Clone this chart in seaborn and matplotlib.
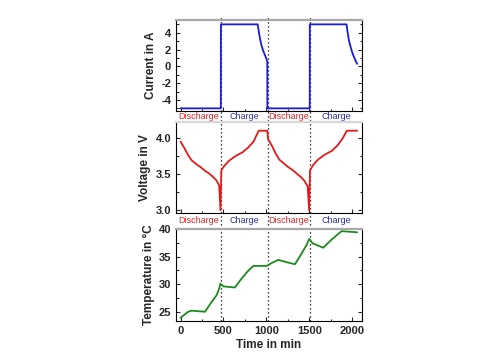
import seaborn as sns
import pandas as pd
from matplotlib import pyplot as plt
from matplotlib.ticker import MultipleLocator

# time axis boundaries between discharge / charge phases (min)
phase_edges = [470, 1020, 1505]
phase_names = ["Discharge", "Charge", "Discharge", "Charge"]

# current in A
cur_t = [0, 469, 470, 898, 906, 915, 925, 940, 960, 980, 1000, 1010, 1011,
         1020, 1504, 1505, 1932, 1940, 1950, 1962, 1980, 2000, 2020, 2040, 2056]
cur_v = [-5, -5, 5, 5, 4.5, 3.9, 3.3, 2.6, 1.9, 1.4, 0.9, 0.5, -5,
         -5, -5, 5, 5, 4.4, 3.7, 3.0, 2.3, 1.6, 1.1, 0.6, 0.3]

# voltage in V
volt_t = [0, 40, 90, 130, 180, 230, 280, 330, 380, 420, 450, 465, 475, 500,
          560, 640, 720, 790, 850, 890, 910, 1010, 1020, 1060, 1110, 1150, 1200,
          1250, 1300, 1350, 1400, 1440, 1480, 1497, 1507, 1540, 1600, 1680,
          1760, 1830, 1890, 1935, 2056]
volt_v = [3.95, 3.87, 3.76, 3.69, 3.64, 3.6, 3.55, 3.51, 3.46, 3.41, 3.34, 3.0,
          3.55, 3.6, 3.68, 3.75, 3.8, 3.87, 3.95, 4.05, 4.1, 4.1, 3.98, 3.9,
          3.78, 3.7, 3.65, 3.6, 3.56, 3.51, 3.46, 3.41, 3.33, 3.0, 3.55, 3.62,
          3.7, 3.77, 3.82, 3.9, 4.0, 4.1, 4.1]

# temperature in degC
temp_t = [0, 40, 90, 130, 200, 285, 350, 420, 450, 465, 498, 560, 634, 700,
          780, 847, 1002, 1070, 1138, 1230, 1331, 1400, 1467, 1498, 1537, 1661,
          1760, 1874, 2056]
temp_v = [23.9, 24.4, 25.0, 25.2, 25.1, 25.0, 26.5, 28.0, 29.2, 30.1, 29.6,
          29.5, 29.4, 30.8, 32.3, 33.3, 33.3, 33.9, 34.4, 34.0, 33.6, 35.3,
          37.1, 38.2, 37.4, 36.6, 38.1, 39.6, 39.4]

sns.set_style("ticks")
plt.rcParams['font.family'] = ['Liberation Sans', 'DejaVu Sans']
plt.rcParams['axes.unicode_minus'] = False
plt.rcParams['xtick.direction'] = 'in'
plt.rcParams['ytick.direction'] = 'in'

fig = plt.figure(figsize=(4.85, 3.6), dpi=100)
ax1 = fig.add_axes([0.363, 0.692, 0.383, 0.252])
ax2 = fig.add_axes([0.363, 0.408, 0.383, 0.253])
ax3 = fig.add_axes([0.363, 0.108, 0.383, 0.256])

df_cur = pd.DataFrame({"t": cur_t, "v": cur_v})
df_volt = pd.DataFrame({"t": volt_t, "v": volt_v})
df_temp = pd.DataFrame({"t": temp_t, "v": temp_v})

sns.lineplot(data=df_cur, x="t", y="v", ax=ax1, color="#1a1ae0", lw=1.3, sort=False)
sns.lineplot(data=df_volt, x="t", y="v", ax=ax2, color="#e41a1a", lw=1.3, sort=False)
sns.lineplot(data=df_temp, x="t", y="v", ax=ax3, color="#1c8a1c", lw=1.3, sort=False)

xlim = (-52, 2110)
ax1.set_ylim(-5.3, 5.5)
ax2.set_ylim(2.96, 4.22)
ax3.set_ylim(23.3, 40)
ax1.yaxis.set_major_locator(MultipleLocator(2))
ax1.yaxis.set_minor_locator(MultipleLocator(1))
ax2.yaxis.set_major_locator(MultipleLocator(0.5))
ax2.yaxis.set_minor_locator(MultipleLocator(0.25))
ax3.yaxis.set_major_locator(MultipleLocator(5))
ax3.yaxis.set_minor_locator(MultipleLocator(2.5))

labels = ["Current in A", "Voltage in V", "Temperature in °C"]
for ax, lab in zip([ax1, ax2, ax3], labels):
    ax.set_xlim(*xlim)
    ax.xaxis.set_major_locator(MultipleLocator(500))
    ax.xaxis.set_minor_locator(MultipleLocator(250))
    ax.tick_params(which='both', top=False, right=True, labelsize=8, width=0.8)
    ax.tick_params(which='major', length=3)
    ax.tick_params(which='minor', length=1.8)
    for s in ["left", "right", "bottom"]:
        ax.spines[s].set_color("black")
        ax.spines[s].set_linewidth(0.8)
    ax.spines["top"].set_color("#a8a8a8")
    ax.spines["top"].set_linewidth(1.6)
    for t in ax.get_yticklabels() + ax.get_xticklabels():
        t.set_fontweight("bold")
    ax.set_ylabel(lab, fontsize=8.5, fontweight="bold", labelpad=3)
    ax.set_xlabel("")

ax2.spines["top"].set_color("#d8d8d8")
ax1.set_xticklabels([])
ax2.set_xticklabels([])
ax3.set_xlabel("Time in min", fontsize=8.5, fontweight="bold", labelpad=2)

# dotted phase boundaries running through the gaps
for ax, top in [(ax1, 1.055), (ax2, 1.12), (ax3, 1.18)]:
    for x in phase_edges:
        ax.axvline(x, ymin=0, ymax=top, color="black", lw=0.9,
                   ls=(0, (1, 2.2)), clip_on=False, zorder=0)

# phase labels in the gaps under the top two panels
bounds = [xlim[0]] + phase_edges + [xlim[1]]
colors = ["#e02828", "#2c2ca8", "#e02828", "#2c2ca8"]
for ax, ypos in [(ax1, -0.06), (ax2, -0.085)]:
    for i, name in enumerate(phase_names):
        mid = (bounds[i] + bounds[i + 1]) / 2
        ax.text(mid, ypos, name, transform=ax.get_xaxis_transform(),
                ha="center", va="center", fontsize=6.5, color=colors[i])

plt.savefig("out.png", dpi=100)
